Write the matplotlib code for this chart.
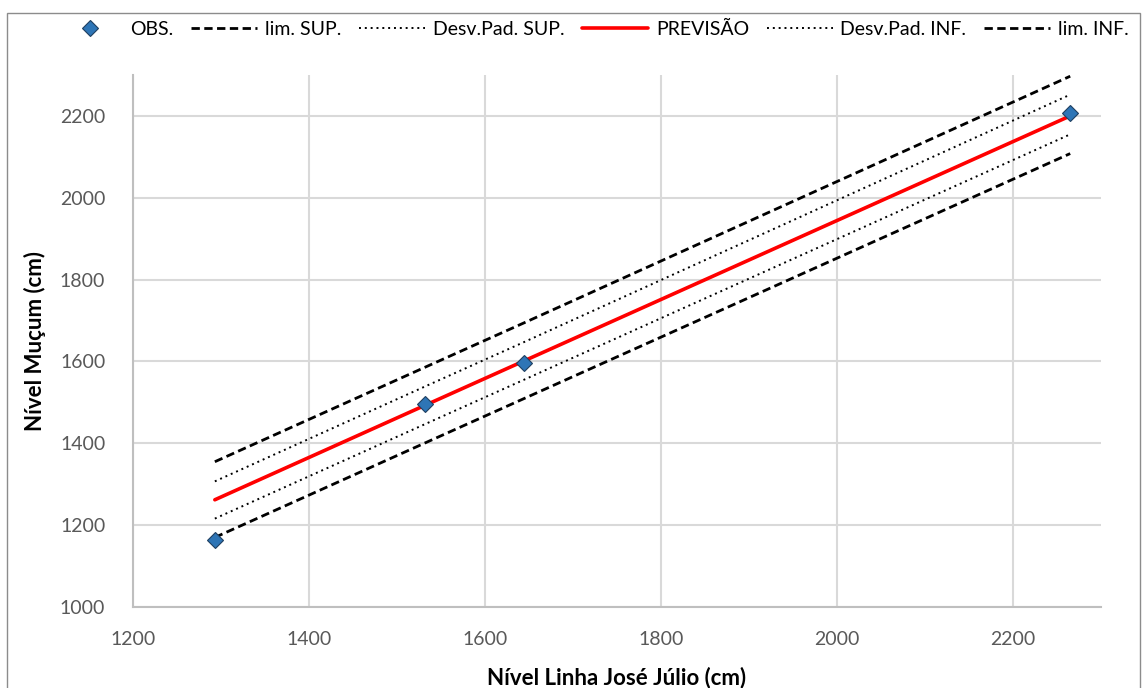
import matplotlib.pyplot as plt
from matplotlib.patches import Rectangle

# Observed levels (cm)
obs_x = [1293, 1532, 1644, 2265]
obs_y = [1164, 1497, 1597, 2207]

# Forecast line and bands, evaluated at the observed x values
prev = [1262, 1493, 1601, 2200]
lim_sup = [1355, 1586, 1694, 2297]
desv_sup = [1307, 1539, 1647, 2252]
desv_inf = [1216, 1447, 1555, 2155]
lim_inf = [1170, 1401, 1509, 2108]

x_ticks = [1200, 1400, 1600, 1800, 2000, 2200]
y_ticks = [1000, 1200, 1400, 1600, 1800, 2000, 2200]

plt.rcParams["font.family"] = ["Lato", "DejaVu Sans"]

fig = plt.figure(figsize=(11.44, 6.88), dpi=100)
ax = fig.add_axes([133 / 1144, 81 / 688, 968 / 1144, 532 / 688])

# outer chart frame
fig.patches.append(Rectangle((7 / 1144, -0.1), 1133 / 1144, 1.1 - 13 / 688,
                             transform=fig.transFigure, fill=False,
                             edgecolor="#8c8c8c", linewidth=1.0))

ax.plot(obs_x, obs_y, linestyle="none", marker="D", markersize=8,
        markerfacecolor="#2e75b6", markeredgecolor="#1f3f60",
        markeredgewidth=0.8, label="OBS.", zorder=5)
ax.plot(obs_x, lim_sup, color="black", linestyle=(0, (3, 1.6)), linewidth=2,
        label="lim. SUP.")
ax.plot(obs_x, desv_sup, color="black", linestyle=(0, (1, 2)), linewidth=1.4,
        label="Desv.Pad. SUP.")
ax.plot(obs_x, prev, color="red", linewidth=2.6, label="PREVISÃO",
        solid_capstyle="round")
ax.plot(obs_x, desv_inf, color="black", linestyle=(0, (1, 2)), linewidth=1.4,
        label="Desv.Pad. INF.")
ax.plot(obs_x, lim_inf, color="black", linestyle=(0, (3, 1.6)), linewidth=2,
        label="lim. INF.")

ax.set_xlim(1200, 2300)
ax.set_ylim(1000, 2300)
ax.set_xticks(x_ticks)
ax.set_yticks(y_ticks)
ax.grid(True, color="#d9d9d9", linewidth=1.5)
ax.set_axisbelow(True)
ax.tick_params(length=0, labelsize=14, colors="#595959")
ax.tick_params(axis="x", pad=17)
ax.tick_params(axis="y", pad=20)
for side in ["top", "right"]:
    ax.spines[side].set_visible(False)
for side in ["left", "bottom"]:
    ax.spines[side].set_color("#bfbfbf")
    ax.spines[side].set_linewidth(1.5)

ax.set_xlabel("Nível Linha José Júlio (cm)", fontsize=16, fontweight="bold",
              labelpad=14)
ax.set_ylabel("Nível Muçum (cm)", fontsize=16, fontweight="bold", labelpad=10)

fig.legend(loc="upper center", bbox_to_anchor=(0.518, 0.995), ncol=6,
           frameon=False, fontsize=14, handlelength=3.4, columnspacing=0.9,
           handletextpad=0.4)

fig.savefig("out.png", dpi=100)
